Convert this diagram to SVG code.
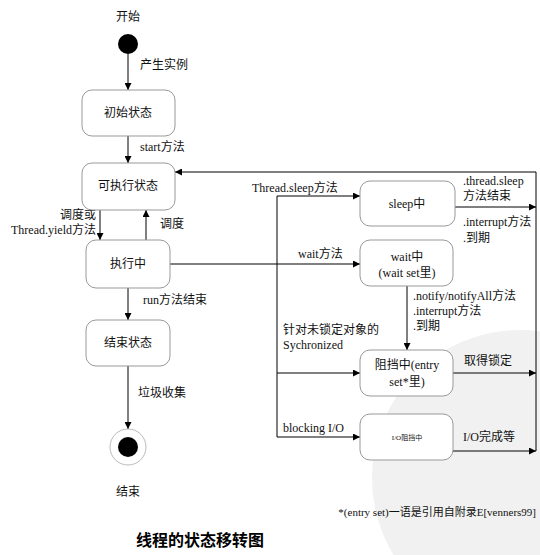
<svg xmlns="http://www.w3.org/2000/svg" width="540" height="555" viewBox="0 0 540 555">
<defs>
<marker id="ah" viewBox="0 0 10 10" refX="10" refY="5" markerWidth="9" markerHeight="7" markerUnits="userSpaceOnUse" orient="auto">
<path d="M0,0 L10,5 L0,10 z" fill="#000"/>
</marker>
<style>
.box{fill:#fff;stroke:#999;stroke-width:1}
.ln{fill:none;stroke:#000;stroke-width:1}
.ar{fill:none;stroke:#000;stroke-width:1;marker-end:url(#ah)}
text{font-family:"Liberation Serif","Noto Sans CJK SC",serif;font-size:12px;fill:#111}
.c{text-anchor:middle}
.r{text-anchor:end}
</style>
</defs>
<rect width="540" height="555" fill="#fff"/>
<circle cx="520" cy="478" r="148" fill="#f1f1f1"/>
<g id="connectors">
<line class="ar" x1="128" y1="54" x2="128" y2="90"/>
<line class="ar" x1="128" y1="136" x2="128" y2="163"/>
<line class="ar" x1="536" y1="172" x2="175" y2="172"/>
<line class="ln" x1="536" y1="172" x2="536" y2="451"/>
<line class="ar" x1="100" y1="210" x2="100" y2="240"/>
<line class="ar" x1="146" y1="240" x2="146" y2="210"/>
<line class="ar" x1="170" y1="264" x2="360" y2="264"/>
<line class="ln" x1="277" y1="196" x2="277" y2="437"/>
<line class="ar" x1="277" y1="196" x2="360" y2="196"/>
<line class="ar" x1="277" y1="373" x2="360" y2="373"/>
<line class="ar" x1="277" y1="437" x2="360" y2="437"/>
<line class="ar" x1="455" y1="207" x2="536" y2="207"/>
<line class="ar" x1="407" y1="286" x2="407" y2="350"/>
<line class="ar" x1="453" y1="373" x2="536" y2="373"/>
<line class="ar" x1="453" y1="451" x2="536" y2="451"/>
<line class="ar" x1="128" y1="288" x2="128" y2="320"/>
<line class="ar" x1="128" y1="366" x2="128" y2="429"/>
</g>
<g id="labels">
<text x="140" y="69">产生实例</text>
<text x="140" y="151">start方法</text>
<text class="r" x="96" y="219">调度或</text>
<text class="r" x="96" y="234">Thread.yield方法</text>
<text x="160" y="228">调度</text>
<text x="252" y="192">Thread.sleep方法</text>
<text x="298" y="258">wait方法</text>
<text x="143" y="304">run方法结束</text>
<text x="283" y="334">针对未锁定对象的</text>
<text x="283" y="349">Sychronized</text>
<text x="283" y="432">blocking I/O</text>
<text x="463" y="185">.thread.sleep</text>
<text x="463" y="200">方法结束</text>
<text x="463" y="226">.interrupt方法</text>
<text x="463" y="242">.到期</text>
<text x="413" y="300">.notify/notifyAll方法</text>
<text x="413" y="315">.interrupt方法</text>
<text x="413" y="330">.到期</text>
<text x="464" y="365">取得锁定</text>
<text x="463" y="441">I/O完成等</text>
<text x="138" y="397">垃圾收集</text>
</g>
<g id="start"><text class="c" x="128" y="21">开始</text><circle cx="128" cy="44" r="10" fill="#000"/></g>
<g id="init"><rect class="box" x="82" y="90" width="93" height="46" rx="10"/><text class="c" x="128" y="117">初始状态</text></g>
<g id="runnable"><rect class="box" x="82" y="163" width="93" height="47" rx="10"/><text class="c" x="128" y="190">可执行状态</text></g>
<g id="running"><rect class="box" x="86" y="240" width="84" height="48" rx="10"/><text class="c" x="128" y="268">执行中</text></g>
<g id="dead"><rect class="box" x="86" y="320" width="84" height="46" rx="10"/><text class="c" x="128" y="347">结束状态</text></g>
<g id="end"><circle cx="128" cy="447" r="18" fill="#fff" stroke="#bbb"/><circle cx="128" cy="447" r="10" fill="#000"/><text class="c" x="128" y="496">结束</text></g>
<g id="sleep"><rect class="box" x="360" y="181" width="95" height="45" rx="10"/><text class="c" x="407" y="208">sleep中</text></g>
<g id="wait"><rect class="box" x="360" y="240" width="93" height="46" rx="10"/><text class="c" x="407" y="261">wait中</text><text class="c" x="407" y="277">(wait set里)</text></g>
<g id="blocked"><rect class="box" x="360" y="350" width="93" height="46" rx="10"/><text class="c" x="407" y="369">阻挡中(entry</text><text class="c" x="407" y="386">set*里)</text></g>
<g id="io"><rect class="box" x="360" y="414" width="93" height="46" rx="10"/><text class="c" x="407" y="440" style="font-size:7px">I/O阻挡中</text></g>
<text class="r" x="536" y="516" style="font-size:11px">*(entry set)一语是引用自附录E[venners99]</text>
<text class="c" x="200" y="546" style="font-size:16px;font-weight:bold;fill:#000">线程的状态移转图</text>
</svg>
